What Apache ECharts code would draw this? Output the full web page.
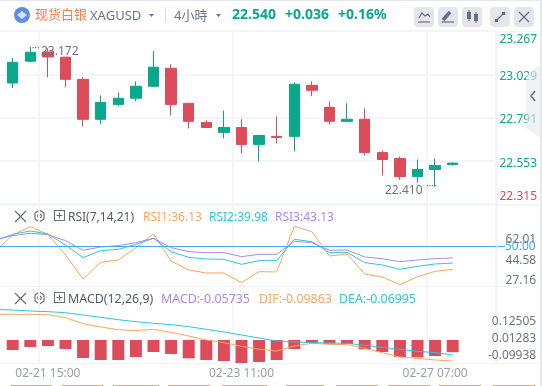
<!DOCTYPE html>
<html>
<head>
<meta charset="utf-8">
<style>
  html, body { margin: 0; padding: 0; background: #fff; }
  #chart { width: 542px; height: 386px; }
</style>
<script src="https://cdn.jsdelivr.net/npm/echarts@6/dist/echarts.min.js"></script>
</head>
<body>
<div id="chart"></div>
<script>
// first slot is off-screen on the left so the indicator lines run out to the edge
const categories = ["", "02-21 07:00", "02-21 11:00", "02-21 15:00", "02-21 19:00", "02-21 23:00", "02-22 03:00", "02-22 07:00", "02-22 11:00", "02-22 15:00", "02-22 19:00", "02-22 23:00", "02-23 03:00", "02-23 07:00", "02-23 11:00", "02-23 15:00", "02-23 19:00", "02-23 23:00", "02-24 03:00", "02-24 07:00", "02-24 11:00", "02-24 15:00", "02-24 19:00", "02-24 23:00", "02-27 03:00", "02-27 07:00", "02-27 11:00", "", ""];
const dateTicks = ["02-21 15:00", "02-23 11:00", "02-27 07:00"];

// [open, close, low, high]
const ohlc = [
  "-",
  [22.981, 23.095, 22.953, 23.117],
  [23.101, 23.150, 23.095, 23.178],
  [23.152, 23.124, 23.012, 23.172],
  [23.123, 23.001, 22.957, 23.123],
  [23.001, 22.781, 22.742, 23.012],
  [22.781, 22.874, 22.753, 22.913],
  [22.863, 22.897, 22.852, 22.930],
  [22.897, 22.963, 22.880, 22.990],
  [22.963, 23.068, 22.957, 23.156],
  [23.062, 22.863, 22.803, 23.084],
  [22.869, 22.770, 22.731, 22.869],
  [22.764, 22.736, 22.736, 22.775],
  [22.709, 22.736, 22.676, 22.830],
  [22.736, 22.643, 22.593, 22.781],
  [22.643, 22.692, 22.549, 22.692],
  [22.687, 22.681, 22.648, 22.797],
  [22.687, 22.974, 22.604, 22.984],
  [22.968, 22.941, 22.908, 22.990],
  [22.847, 22.770, 22.753, 22.880],
  [22.770, 22.781, 22.764, 22.869],
  [22.781, 22.598, 22.582, 22.841],
  [22.598, 22.560, 22.471, 22.609],
  [22.565, 22.466, 22.449, 22.576],
  [22.466, 22.505, 22.433, 22.560],
  [22.505, 22.527, 22.410, 22.565],
  [22.532, 22.540, 22.527, 22.543],
  "-", "-"
];

const rsi1 = [46.95, 57.12, 62.2, 57.52, 44.92, 30.28, 40.44, 41.87, 49.39, 57.73, 41.26, 35.77, 33.94, 33.94, 28.04, 34.75, 34.55, 62.4, 59.15, 44.31, 45.53, 33.33, 31.5, 26.82, 31.7, 34.95, 36.13];
const rsi2 = [53.66, 57.52, 59.56, 57.73, 51.02, 43.29, 47.56, 48.37, 51.42, 55.08, 46.95, 43.49, 42.48, 42.27, 39.22, 41.46, 41.46, 54.47, 53.05, 46.34, 46.54, 40.24, 38.82, 36.17, 37.99, 39.43, 39.98];
const rsi3 = [54.07, 56.71, 58.13, 57.32, 53.66, 47.76, 49.8, 50.61, 52.44, 55.08, 49.39, 46.95, 46.34, 46.34, 43.9, 45.32, 45.32, 53.25, 52.44, 47.76, 47.97, 43.7, 42.68, 40.85, 41.87, 42.68, 43.13];

const macdBars = ["-", -0.047, -0.0329, -0.0282, -0.0423, -0.0846, -0.094, -0.094, -0.0799, -0.0564, -0.0658, -0.0862, -0.094, -0.0987, -0.1081, -0.1034, -0.094, -0.0423, -0.0141, -0.0172, -0.0188, -0.0439, -0.0564, -0.0799, -0.0815, -0.0752, -0.05735];
const dif = [0.1207, 0.1207, 0.1207, 0.1191, 0.105, 0.0768, 0.0611, 0.0486, 0.0439, 0.0501, 0.036, 0.0188, 0, -0.0125, -0.0298, -0.0439, -0.0517, -0.0282, -0.0157, -0.0204, -0.0219, -0.0392, -0.0595, -0.0799, -0.0862, -0.094, -0.09863];
const dea = [0.1442, 0.141, 0.1363, 0.1332, 0.1285, 0.1175, 0.1066, 0.0956, 0.0862, 0.0784, 0.0721, 0.0627, 0.0501, 0.0376, 0.0235, 0.0094, -0.0047, -0.0094, -0.0125, -0.0141, -0.0157, -0.0251, -0.0345, -0.0439, -0.0533, -0.0595, -0.06995];

const rsiTicks = [62.01, 44.58, 27.16];
const macdTicks = [0.12505, 0.01283, -0.09938];

const GREEN = "#0aa88a";
const RED = "#dc4c5a";
const ORANGE = "#fba55c";
const TEAL = "#2cc5dc";
const PURPLE = "#a98ae8";
const BLUE = "#3fa9f5";
const GRAY = "#6f7380";
const ICON = "#6b6f7c";
const GRID = "#f4f5f8";
const FONT = '"Noto Sans", "Noto Sans CJK SC", sans-serif';

// band is 17.6px, the x grids are wider than the plot so the lead slot falls off-screen
const gridBase = { left: -13.7, width: 510.4, outerBoundsMode: "none" };
const isDateTick = (i) => dateTicks.includes(categories[i]);

const xAxisBase = {
  type: "category",
  data: categories,
  axisLine: { show: false },
  axisTick: { show: false },
  axisLabel: { show: false },
  splitLine: { show: true, interval: (i) => isDateTick(i), lineStyle: { color: GRID, width: 2 } },
};

// small helpers for the header row and the pane legends
const text = (x, y, str, fill, size, weight) => ({
  type: "text",
  x,
  y: y + 1.5,
  z: 20,
  silent: true,
  style: { text: str, fill, font: `${weight || "normal"} ${size}px ${FONT}`, textVerticalAlign: "middle" },
});
const stroke = (points, color, lineWidth) => ({
  type: "polyline",
  shape: { points },
  style: { stroke: color || ICON, fill: null, lineWidth: lineWidth || 1.2 },
});
const fillRect = (x, y, width, height, fill) => ({ type: "rect", shape: { x, y, width, height }, style: { fill } });
const paneTools = (y) => [
  stroke([[15, y - 5], [26, y + 6]]),
  stroke([[26, y - 5], [15, y + 6]]),
  { type: "polygon", shape: { points: [[35, y - 3], [39.5, y - 6], [44, y - 3], [44, y + 3], [39.5, y + 6], [35, y + 3]] }, style: { stroke: ICON, fill: "none", lineWidth: 1.2 } },
  { type: "circle", shape: { cx: 39.5, cy: y, r: 1.8 }, style: { stroke: ICON, fill: "none", lineWidth: 1.2 } },
  { type: "rect", shape: { x: 54.5, y: y - 5.5, width: 10, height: 10 }, style: { stroke: ICON, fill: "none", lineWidth: 1.1 } },
  stroke([[56.5, y - 0.5], [62.5, y - 0.5]], ICON, 1),
  stroke([[59.5, y - 3.5], [59.5, y + 2.5]], ICON, 1),
];
const toolButton = (x) => ({ type: "rect", shape: { x, y: 7, width: 20, height: 20, r: 4 }, style: { fill: "#e4e6ee" } });

const chart = echarts.init(document.getElementById("chart"));
chart.setOption({
  animation: false,
  backgroundColor: "#fff",
  textStyle: { fontFamily: FONT },
  grid: [
    { ...gridBase, top: 31, height: 173 },
    { ...gridBase, top: 205, height: 81 },
    { ...gridBase, top: 286, height: 77 },
  ],
  xAxis: [
    { ...xAxisBase, gridIndex: 0 },
    { ...xAxisBase, gridIndex: 1 },
    {
      ...xAxisBase,
      gridIndex: 2,
      axisLabel: { show: true, interval: (i) => isDateTick(i), color: "#9a9eae", fontSize: 12, margin: 5, fontFamily: FONT },
    },
  ],
  yAxis: [
    {
      type: "value",
      gridIndex: 0,
      position: "right",
      min: 22.315,
      max: 23.267,
      interval: 0.238,
      axisLine: { show: false },
      axisTick: { show: false },
      splitLine: { lineStyle: { color: GRID, width: 2 } },
      axisLabel: {
        fontSize: 12,
        margin: 40.3,
        align: "right",
        fontFamily: FONT,
        verticalAlignMaxLabel: "top",
        verticalAlignMinLabel: "bottom",
        formatter: (v) => {
          const s = v.toFixed(3);
          if (s === "23.267") return `{top|${s}}`;
          if (s === "22.315") return `{low|${s}}`;
          return `{mid|${s}}`;
        },
        rich: {
          top: { color: GREEN, fontSize: 12, fontFamily: FONT, padding: [3, 0, 0, 0] },
          mid: { color: GREEN, fontSize: 12, fontFamily: FONT, padding: [5, 0, 0, 0] },
          low: { color: RED, fontSize: 12, fontFamily: FONT, padding: [0, 0, 1, 0] },
        },
      },
    },
    { type: "value", gridIndex: 1, position: "right", min: 26, max: 75.4, axisLine: { show: false }, axisTick: { show: false }, axisLabel: { show: false }, splitLine: { show: false } },
    // the printed ticks are spaced differently from the plotted lines, so they get their own scale
    {
      type: "value", gridIndex: 1, position: "right", min: 22.91, max: 91.76,
      axisLine: { show: false }, axisTick: { show: false }, splitLine: { show: false },
      axisLabel: { customValues: rsiTicks, color: GRAY, fontSize: 12, margin: 39.5, align: "right", fontFamily: FONT, formatter: (v) => v.toFixed(2) },
    },
    { type: "value", gridIndex: 2, position: "right", min: -0.1081, max: 0.2538, axisLine: { show: false }, axisTick: { show: false }, axisLabel: { show: false }, splitLine: { show: false } },
    {
      type: "value", gridIndex: 2, position: "right", min: -0.1469, max: 0.3613,
      axisLine: { show: false }, axisTick: { show: false }, splitLine: { show: false },
      axisLabel: { customValues: macdTicks, color: GRAY, fontSize: 12, margin: 39.5, align: "right", fontFamily: FONT, formatter: (v) => v.toFixed(5) },
    },
  ],
  series: [
    {
      type: "candlestick",
      xAxisIndex: 0,
      yAxisIndex: 0,
      data: ohlc,
      barWidth: 11,
      itemStyle: { color: GREEN, color0: RED, borderColor: GREEN, borderColor0: RED, borderWidth: 1 },
    },
    ...[[rsi1, ORANGE], [rsi2, TEAL], [rsi3, PURPLE]].map(([data, color]) => ({
      type: "line", xAxisIndex: 1, yAxisIndex: 1, data, symbol: "none", lineStyle: { color, width: 1 },
    })),
    {
      type: "line", xAxisIndex: 1, yAxisIndex: 1, data: [], symbol: "none",
      markLine: {
        silent: true,
        symbol: "none",
        data: [{ yAxis: 50 }],
        lineStyle: { color: BLUE, width: 1, type: "solid" },
        label: { position: "end", distance: 8.3, padding: [4, 0, 0, 0], color: BLUE, fontSize: 12, fontFamily: FONT, formatter: "50.00" },
      },
    },
    { type: "bar", xAxisIndex: 2, yAxisIndex: 3, data: macdBars, barWidth: 12, itemStyle: { color: RED } },
    { type: "line", xAxisIndex: 2, yAxisIndex: 3, data: dif, symbol: "none", lineStyle: { color: ORANGE, width: 1 } },
    { type: "line", xAxisIndex: 2, yAxisIndex: 3, data: dea, symbol: "none", lineStyle: { color: TEAL, width: 1 } },
  ],
  graphic: [
    fillRect(0, 0, 542, 1, "#e3e6ee"),
    fillRect(0, 31, 540, 1, GRID),
    fillRect(0, 204, 540, 2, GRID),
    fillRect(0, 286, 540, 1, GRID),
    fillRect(0, 363, 540, 1, GRID),
    fillRect(495, 31, 1, 332, GRID),
    fillRect(540, 0, 2, 386, "#e6e8ee"),
    stroke([[496, 246.6], [505, 246.6]], BLUE, 1),

    // header
    { type: "circle", shape: { cx: 22, cy: 15, r: 8 }, style: { fill: "#5c8de8" } },
    { type: "polygon", shape: { points: [[17, 15], [22, 11], [27, 15], [22, 19]] }, style: { fill: "#d5e2fa" } },
    text(35, 14, "现货白银", "#f57a4c", 13),
    text(90, 15, "XAGUSD", GRAY, 13),
    { type: "polygon", shape: { points: [[149, 14], [154, 14], [151.5, 17]] }, style: { fill: GRAY } },
    fillRect(165, 9, 1, 13, "#d8dae2"),
    text(174, 14.5, "4小時", GRAY, 13),
    { type: "polygon", shape: { points: [[216, 14], [221, 14], [218.5, 17]] }, style: { fill: GRAY } },
    text(232, 14, "22.540", GREEN, 14, "bold"),
    text(285, 14, "+0.036", GREEN, 14, "bold"),
    text(338, 14, "+0.16%", GREEN, 14, "bold"),

    // toolbar buttons
    toolButton(414), toolButton(438), toolButton(462), toolButton(490), toolButton(514),
    stroke([[419, 18], [422, 13], [425, 16], [428, 14], [430, 17]]),
    stroke([[418, 22], [430, 22]]),
    stroke([[443, 20], [450, 12]], ICON, 3.5),
    stroke([[442, 22], [454, 22]]),
    fillRect(467, 12, 4, 7, ICON), stroke([[469, 10], [469, 21]], ICON, 1),
    fillRect(474, 14, 4, 7, ICON), stroke([[476, 12], [476, 23]], ICON, 1),
    stroke([[495, 22], [505, 12]], ICON, 1.2),
    fillRect(495, 19, 3, 3, ICON), fillRect(502, 12, 3, 3, ICON),
    stroke([[519, 12], [529, 22]]),
    stroke([[529, 12], [519, 22]]),

    // collapse tab on the price axis
    { type: "polygon", z: 30, shape: { points: [[526, 75], [540, 65], [540, 138], [526, 128]] }, style: { fill: "#e9eaf0", opacity: 0.65 } },
    { type: "polyline", z: 31, shape: { points: [[535, 91], [531, 96], [535, 101]] }, style: { stroke: ICON, fill: null, lineWidth: 1.5 } },

    // high / low callouts
    text(29, 47, "····", GRAY, 10),
    text(41, 50, "23.172", GRAY, 12),
    text(385, 189, "22.410", GRAY, 12),
    text(426, 185, "····", GRAY, 10),

    // RSI pane legend
    ...paneTools(216),
    text(68, 216, "RSI(7,14,21)", "#555966", 12),
    text(143, 216, "RSI1:36.13", ORANGE, 12),
    text(209, 216, "RSI2:39.98", TEAL, 12),
    text(275, 216, "RSI3:43.13", PURPLE, 12),

    // MACD pane legend
    ...paneTools(298),
    text(68, 298, "MACD(12,26,9)", "#555966", 12.4),
    text(161, 298, "MACD:-0.05735", PURPLE, 12.4),
    text(259, 298, "DIF:-0.09863", ORANGE, 12.4),
    text(339, 298, "DEA:-0.06995", TEAL, 12.4),

    // tops of the page's buttons, cut off by the screenshot
    ...[[11, 41], [62, 41], [113, 46], [168, 42], [222, 45], [286, 38], [336, 42], [388, 42], [439, 42], [493, 42]].map(([x, w]) => fillRect(x, 385, w, 1, "#dcae7c")),
  ],
});
</script>
</body>
</html>
